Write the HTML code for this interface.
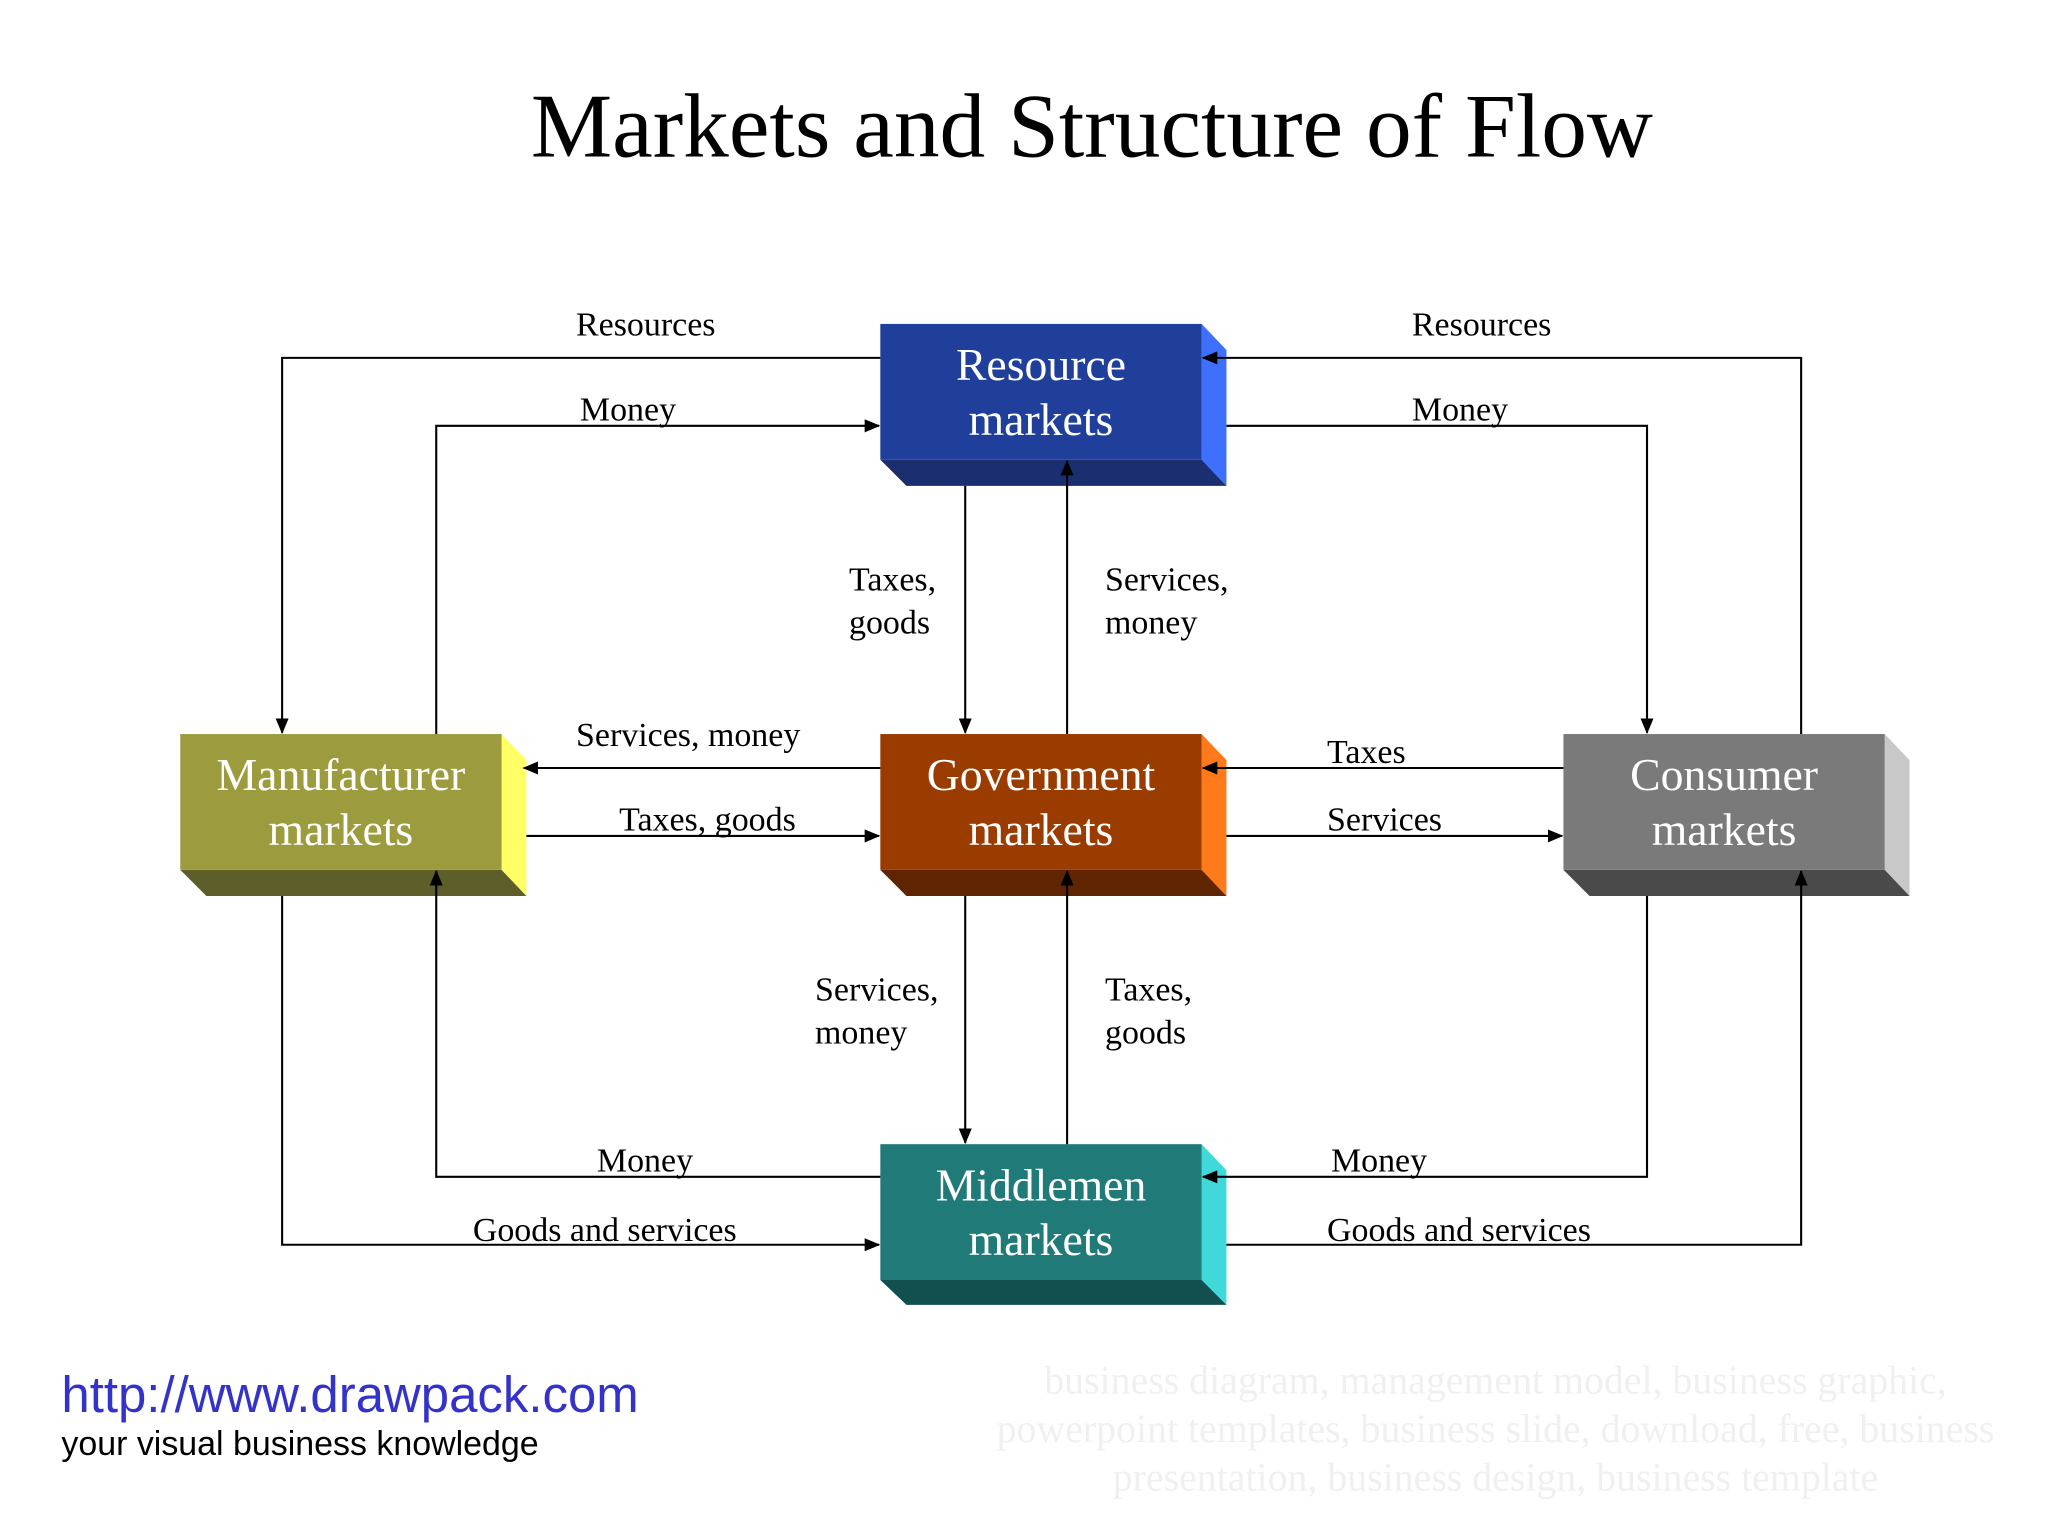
<!DOCTYPE html>
<html><head><meta charset="utf-8"><style>
html,body{margin:0;padding:0;background:#fff;}
svg{display:block;}
text{font-family:"Liberation Serif",serif;}
</style></head><body>
<svg width="2048" height="1536" viewBox="0 0 1568 1176" xmlns="http://www.w3.org/2000/svg">
<defs>
<marker id="a" markerWidth="12" markerHeight="10" refX="11" refY="5" orient="auto" markerUnits="userSpaceOnUse">
<path d="M0,0 L12,5 L0,10 z" fill="#000"/></marker>
</defs>
<rect width="1568" height="1176" fill="#fff"/>
<text x="836" y="120" font-size="70" text-anchor="middle">Markets and Structure of Flow</text>

<!-- boxes -->
<g>
<polygon points="920,248 939,268 939,372 920,352" fill="#3F6FFF"/>
<polygon points="674,352 920,352 939,372 694,372" fill="#1A2E70"/>
<rect x="674" y="248" width="246" height="104" fill="#1F3F9A"/>
<text x="797" y="291" font-size="35" fill="#fff" text-anchor="middle">Resource</text>
<text x="797" y="333" font-size="35" fill="#fff" text-anchor="middle">markets</text>

<polygon points="384,562 403,582 403,686 384,666" fill="#FFFF66"/>
<polygon points="138,666 384,666 403,686 158,686" fill="#5E5E2A"/>
<rect x="138" y="562" width="246" height="104" fill="#9C9C3E"/>
<text x="261" y="605" font-size="35" fill="#fff" text-anchor="middle">Manufacturer</text>
<text x="261" y="647" font-size="35" fill="#fff" text-anchor="middle">markets</text>

<polygon points="920,562 939,582 939,686 920,666" fill="#FF7A1A"/>
<polygon points="674,666 920,666 939,686 694,686" fill="#5E2500"/>
<rect x="674" y="562" width="246" height="104" fill="#9A3C00"/>
<text x="797" y="605" font-size="35" fill="#fff" text-anchor="middle">Government</text>
<text x="797" y="647" font-size="35" fill="#fff" text-anchor="middle">markets</text>

<polygon points="1443,562 1462,582 1462,686 1443,666" fill="#C8C8C8"/>
<polygon points="1197,666 1443,666 1462,686 1217,686" fill="#4A4A4A"/>
<rect x="1197" y="562" width="246" height="104" fill="#7A7A7A"/>
<text x="1320" y="605" font-size="35" fill="#fff" text-anchor="middle">Consumer</text>
<text x="1320" y="647" font-size="35" fill="#fff" text-anchor="middle">markets</text>

<polygon points="920,876 939,896 939,999 920,980" fill="#40D8D8"/>
<polygon points="674,980 920,980 939,999 694,999" fill="#125050"/>
<rect x="674" y="876" width="246" height="104" fill="#1F7A78"/>
<text x="797" y="919" font-size="35" fill="#fff" text-anchor="middle">Middlemen</text>
<text x="797" y="961" font-size="35" fill="#fff" text-anchor="middle">markets</text>
</g>

<g fill="none" stroke="#000" stroke-width="1.6" marker-end="url(#a)">
<path d="M674,274 H216 V561"/>
<path d="M334,562 V326 H673"/>
<path d="M1379,562 V274 H921"/>
<path d="M939,326 H1261 V561"/>
<path d="M739,372 V561"/>
<path d="M817,562 V353"/>
<path d="M674,588 H401"/>
<path d="M403,640 H673"/>
<path d="M1197,588 H921"/>
<path d="M939,640 H1196"/>
<path d="M739,686 V875"/>
<path d="M817,876 V667"/>
<path d="M674,901 H334 V667"/>
<path d="M216,686 V953 H673"/>
<path d="M1261,686 V901 H921"/>
<path d="M939,953 H1379 V667"/>
</g>

<g font-size="26">
<text x="441" y="257">Resources</text>
<text x="444" y="322">Money</text>
<text x="1081" y="257">Resources</text>
<text x="1081" y="322">Money</text>
<text x="650" y="452">Taxes,</text><text x="650" y="485">goods</text>
<text x="846" y="452">Services,</text><text x="846" y="485">money</text>
<text x="441" y="571">Services, money</text>
<text x="474" y="636">Taxes, goods</text>
<text x="1016" y="584">Taxes</text>
<text x="1016" y="636">Services</text>
<text x="624" y="766">Services,</text><text x="624" y="799">money</text>
<text x="846" y="766">Taxes,</text><text x="846" y="799">goods</text>
<text x="457" y="897">Money</text>
<text x="362" y="950">Goods and services</text>
<text x="1019" y="897">Money</text>
<text x="1016" y="950">Goods and services</text>
</g>

<text x="47" y="1081" font-size="39" fill="#3333CC" style="font-family:'Liberation Sans',sans-serif">http://www.drawpack.com</text>
<text x="47" y="1114" font-size="26" fill="#000" style="font-family:'Liberation Sans',sans-serif">your visual business knowledge</text>
<g font-size="30.5" fill="#F0F0F0" text-anchor="middle">
<text x="1145" y="1067">business diagram, management model, business graphic,</text>
<text x="1145" y="1104">powerpoint templates, business slide, download, free, business</text>
<text x="1145" y="1141">presentation, business design, business template</text>
</g>
</svg>
</body></html>
